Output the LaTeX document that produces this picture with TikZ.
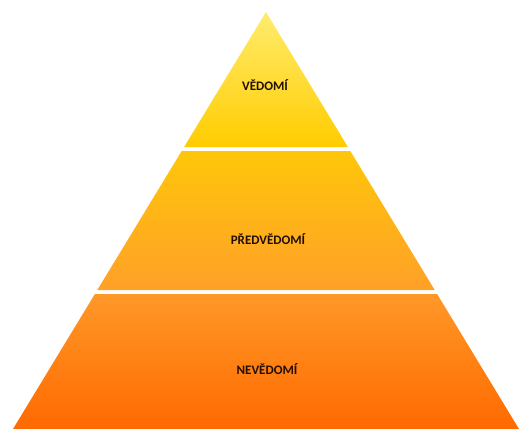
\documentclass[tikz,border=0pt]{standalone}
\usepackage{fontspec}
\setmainfont{Carlito}
\definecolor{vedtop}{RGB}{255, 236, 110}
\definecolor{vedbot}{RGB}{255, 204, 0}
\definecolor{predtop}{RGB}{255, 198, 10}
\definecolor{predbot}{RGB}{255, 160, 40}
\definecolor{nevtop}{RGB}{255, 152, 40}
\definecolor{nevbot}{RGB}{255, 106, 0}
\definecolor{labeltext}{RGB}{35, 15, 0}
\usepackage{tikz}
\usetikzlibrary{positioning, calc}

\begin{document}
\begin{tikzpicture}[x=1pt, y=-1pt,
  layerlabel/.style={font=\bfseries\fontsize{13}{15}\selectfont, text=labeltext}]
  \useasboundingbox (0, 0) rectangle (523, 429);

  % Top layer
  \shade[top color=vedtop, bottom color=vedbot] (266, 12) -- (347.9, 147) -- (184.1, 147) -- cycle;
  \node[layerlabel] (vedomi) at (265, 85) {VĚDOMÍ};

  % Middle layer
  \shade[top color=predtop, bottom color=predbot] (181.7, 151) -- (350.3, 151) -- (434.7, 290) -- (97.3, 290) -- cycle;
  \node[layerlabel] (predvedomi) at (268, 239) {PŘEDVĚDOMÍ};

  % Bottom layer
  \shade[top color=nevtop, bottom color=nevbot] (94.9, 294) -- (437.1, 294) -- (519, 429) -- (13, 429) -- cycle;
  \node[layerlabel] (nevedomi) at (267, 369) {NEVĚDOMÍ};
\end{tikzpicture}
\end{document}
